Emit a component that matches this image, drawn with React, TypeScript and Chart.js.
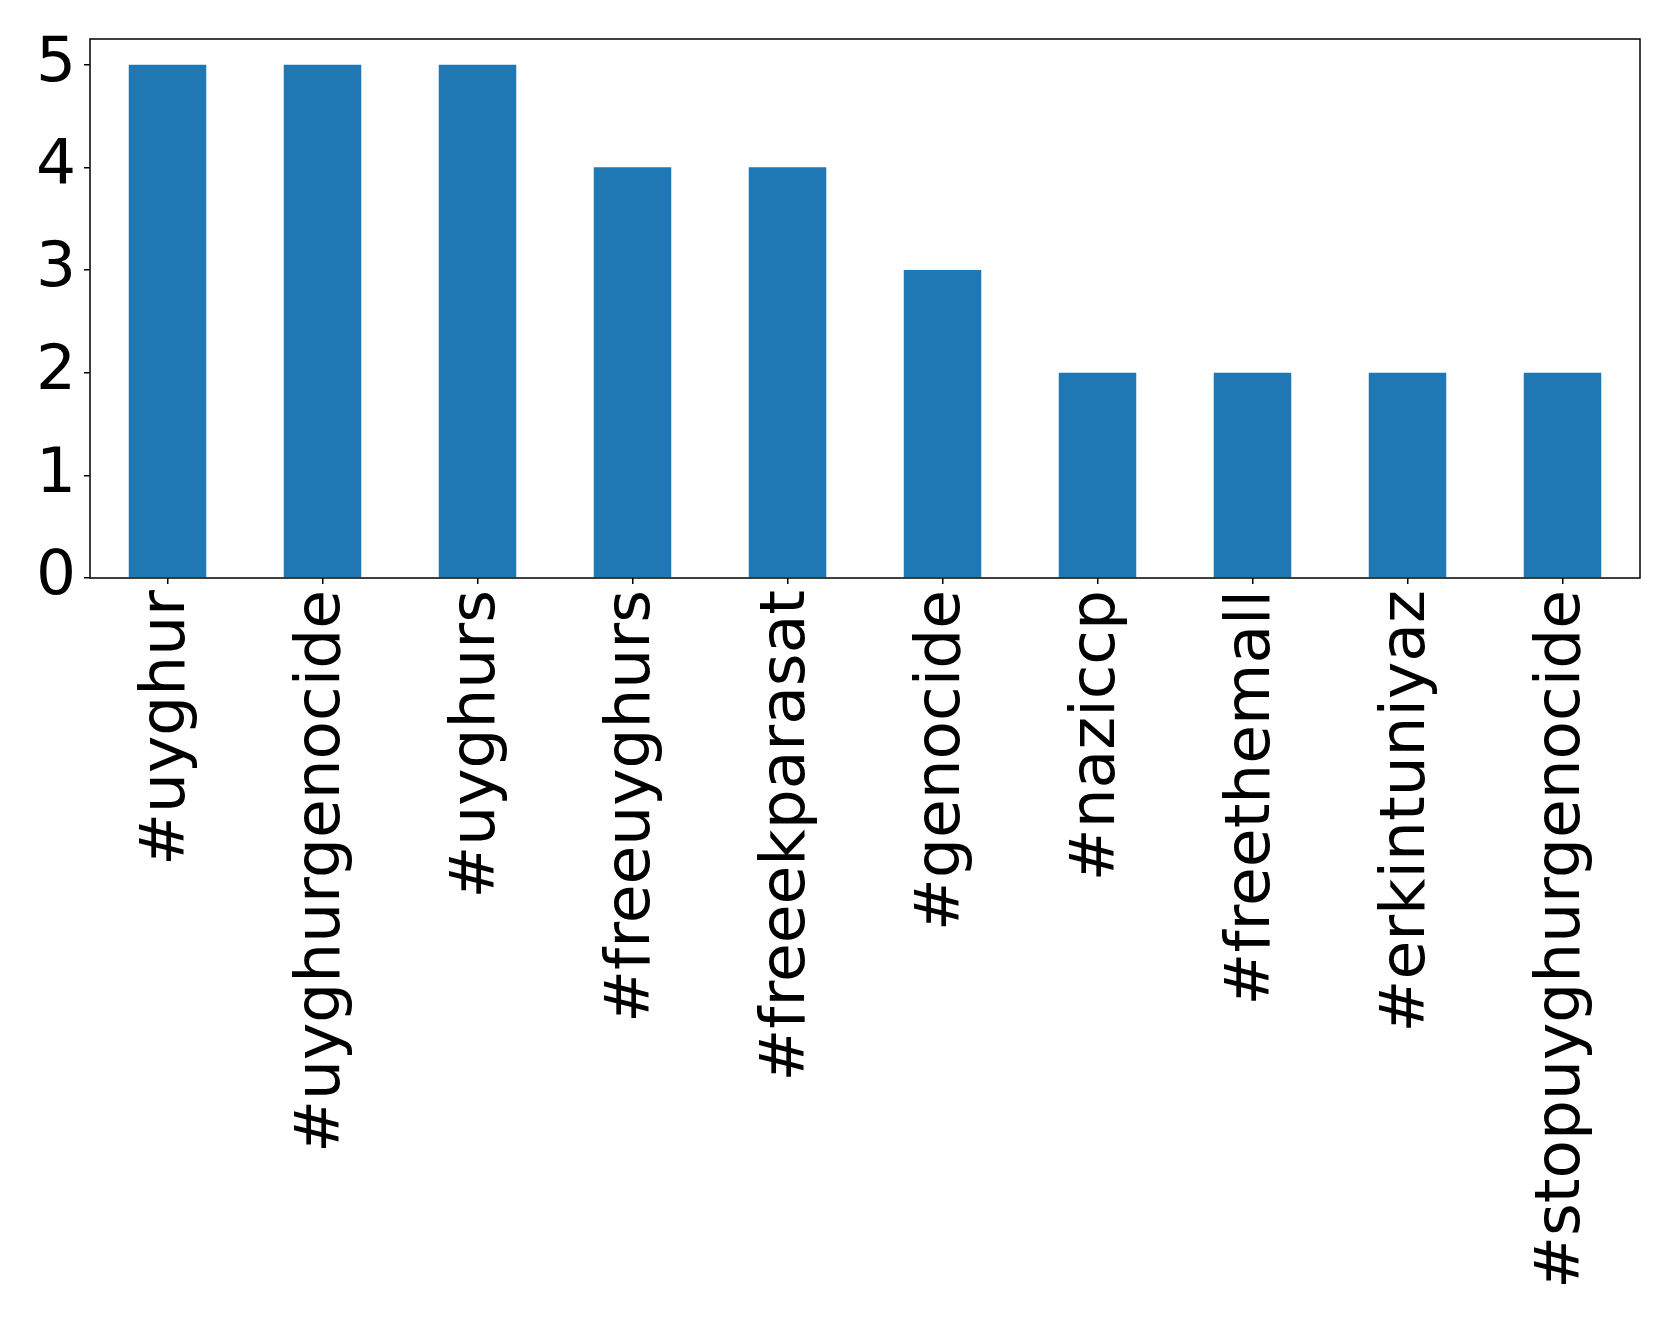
import React, { useEffect, useRef } from "react";
import { Chart, registerables } from "chart.js";

Chart.register(...registerables);

const categories: string[] = [
  "#uyghur",
  "#uyghurgenocide",
  "#uyghurs",
  "#freeuyghurs",
  "#freeekparasat",
  "#genocide",
  "#naziccp",
  "#freethemall",
  "#erkintuniyaz",
  "#stopuyghurgenocide",
];
const counts: number[] = [5, 5, 5, 4, 4, 3, 2, 2, 2, 2];
const yTicks: number[] = [0, 1, 2, 3, 4, 5];

const W = 1679;
const H = 1321;
const FONT = 63;

const frame = {
  id: "frame",
  afterDatasetsDraw(chart: any) {
    const { ctx, chartArea } = chart;
    ctx.save();
    ctx.strokeStyle = "#000";
    ctx.lineWidth = 1.5;
    ctx.strokeRect(chartArea.left, chartArea.top, chartArea.right - chartArea.left, chartArea.bottom - chartArea.top);
    ctx.restore();
  },
};

export default function App() {
  const ref = useRef<HTMLCanvasElement | null>(null);
  useEffect(() => {
    document.body.style.margin = "0";
    const c = ref.current;
    if (!c) return;
    const chart = new Chart(c, {
      type: "bar",
      data: {
        labels: categories,
        datasets: [
          {
            data: counts,
            backgroundColor: "#1f77b4",
            borderWidth: 0,
            categoryPercentage: 1,
            barPercentage: 0.5,
          },
        ],
      },
      options: {
        animation: false,
        responsive: false,
        maintainAspectRatio: false,
        layout: { padding: { top: 39, right: 39, left: 0, bottom: 0 } },
        plugins: { legend: { display: false }, tooltip: { enabled: false } },
        scales: {
          x: {
            offset: true,
            grid: { display: true, offset: false, drawOnChartArea: false, drawTicks: true, tickLength: 6, color: "#000", lineWidth: 1.5 },
            border: { display: false },
            ticks: {
              color: "#000",
              font: { family: "DejaVu Sans", size: FONT },
              maxRotation: 90,
              minRotation: 90,
              autoSkip: false,
              padding: 6,
            },
            afterFit(scale: any) {
              scale.height = H - 578;
              scale.paddingLeft = 0;
              scale.paddingRight = 0;
            },
          },
          y: {
            min: 0,
            max: 5.25,
            grid: { display: true, drawOnChartArea: false, drawTicks: true, tickLength: 6, color: "#000", lineWidth: 1.5 },
            border: { display: false },
            ticks: {
              color: "#000",
              font: { family: "DejaVu Sans", size: FONT },
              padding: 8,
              includeBounds: false,
            },
            afterBuildTicks(scale: any) {
              scale.ticks = yTicks.map((v) => ({ value: v }));
            },
            afterFit(scale: any) {
              scale.width = 90;
              scale.paddingTop = 0;
              scale.paddingBottom = 0;
            },
          },
        },
      },
      plugins: [frame],
    });
    return () => chart.destroy();
  }, []);
  return (
    <div style={{ width: W, height: H, background: "#fff" }}>
      <canvas ref={ref} width={W} height={H} style={{ width: W, height: H, display: "block" }} />
    </div>
  );
}
